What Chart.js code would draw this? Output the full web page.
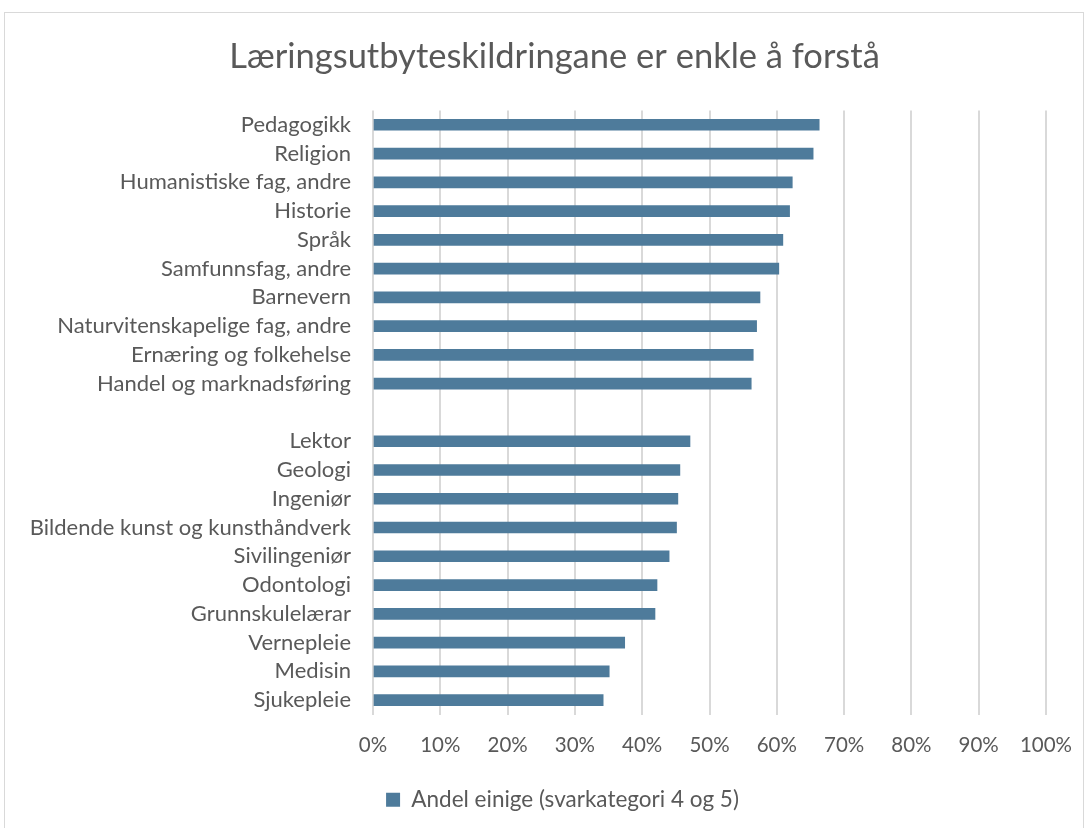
<!DOCTYPE html>
<html lang="nn">
<head>
<meta charset="UTF-8">
<title>Læringsutbyteskildringane er enkle å forstå</title>
<script src="https://cdn.jsdelivr.net/npm/chart.js@4/dist/chart.umd.min.js"></script>
<style>
  html, body { margin: 0; padding: 0; background: #fff; overflow: hidden; }
  #box {
    position: absolute; left: 4px; top: 12px; width: 1080px; height: 830px;
    border: 1px solid #d9d9d9; box-sizing: border-box;
  }
  #wrap { position: absolute; left: 0; top: 0; width: 1078px; height: 816px; }
</style>
</head>
<body>
<div id="box"><div id="wrap"><canvas id="myChart"></canvas></div></div>
<script>
  const categories = [
    'Pedagogikk', 'Religion', 'Humanistiske fag, andre', 'Historie', 'Språk',
    'Samfunnsfag, andre', 'Barnevern', 'Naturvitenskapelige fag, andre',
    'Ernæring og folkehelse', 'Handel og marknadsføring', '',
    'Lektor', 'Geologi', 'Ingeniør', 'Bildende kunst og kunsthåndverk',
    'Sivilingeniør', 'Odontologi', 'Grunnskulelærar', 'Vernepleie', 'Medisin', 'Sjukepleie'
  ];
  const shareAgree = [
    66.3, 65.4, 62.3, 61.9, 60.9, 60.3, 57.5, 57.0, 56.5, 56.2, null,
    47.1, 45.6, 45.3, 45.1, 44.0, 42.2, 41.9, 37.4, 35.1, 34.2
  ];
  const seriesName = 'Andel einige (svarkategori 4 og 5)';
  const chartTitle = 'Læringsutbyteskildringane er enkle å forstå';

  const textColor = '#595959';
  const fontFamily = 'Lato, "Open Sans", sans-serif';

  // the original centres title and legend a bit right of the canvas centre
  const shiftBoxes = {
    id: 'shiftBoxes',
    afterLayout(chart) {
      if (chart.titleBlock) { chart.titleBlock.left += 29; chart.titleBlock.right += 29; }
      if (chart.legend) { chart.legend.left += 37; chart.legend.right += 37; }
    }
  };

  const ctx = document.getElementById('myChart').getContext('2d');
  new Chart(ctx, {
    type: 'bar',
    data: {
      labels: categories,
      datasets: [{
        label: seriesName,
        data: shareAgree,
        backgroundColor: '#4e7b9b',
        barThickness: 11
      }]
    },
    plugins: [shiftBoxes],
    options: {
      indexAxis: 'y',
      responsive: true,
      maintainAspectRatio: false,
      animation: false,
      layout: { padding: { left: 0, right: 37, top: 0, bottom: 8 } },
      plugins: {
        title: {
          display: true,
          text: chartTitle,
          color: textColor,
          font: { family: fontFamily, size: 34.5, weight: 'normal' },
          padding: { top: 23, bottom: 33 }
        },
        legend: {
          position: 'bottom',
          labels: {
            color: textColor,
            font: { family: fontFamily, size: 22.5 },
            boxWidth: 14, boxHeight: 14, padding: 10
          }
        },
        tooltip: { enabled: false }
      },
      scales: {
        x: {
          min: 0, max: 100,
          ticks: {
            stepSize: 10,
            color: textColor,
            font: { family: fontFamily, size: 20.5 },
            padding: 19,
            callback: v => v + '%'
          },
          grid: { color: '#d9d9d9', lineWidth: 2, drawTicks: false },
          border: { display: false },
          afterFit: s => { s.height = 64; s.paddingRight = 0; s.paddingLeft = 0; }
        },
        y: {
          ticks: {
            color: textColor,
            font: { family: fontFamily, size: 22 },
            padding: 22,
            autoSkip: false
          },
          grid: { display: false, drawTicks: false },
          border: { display: false },
          afterFit: s => { s.width = 368; }
        }
      }
    }
  });
</script>
</body>
</html>
